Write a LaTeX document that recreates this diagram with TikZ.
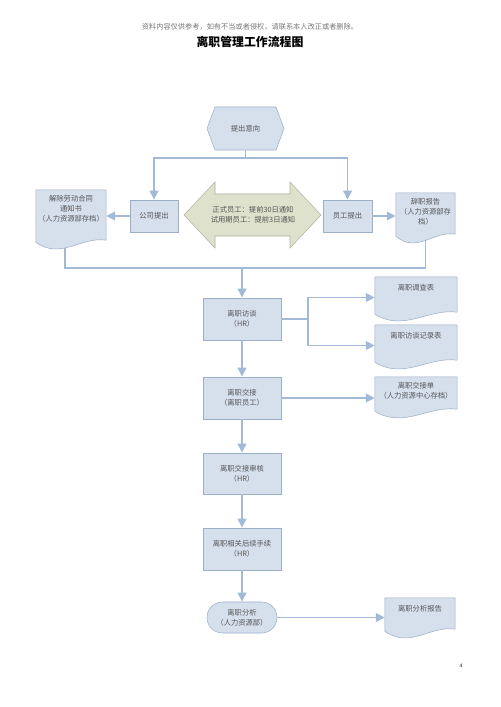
\documentclass[tikz,border=0pt]{standalone}
\usepackage{fontspec}
\setmainfont{Liberation Serif}
\newfontfamily\cjk{Noto Sans CJK SC}
\usetikzlibrary{arrows.meta,calc}
\definecolor{boxfill}{RGB}{214,223,236}
\definecolor{boxline}{RGB}{156,175,200}
\definecolor{conn}{RGB}{163,185,216}
\definecolor{dafill}{RGB}{222,225,204}
\definecolor{daline}{RGB}{176,180,156}
\definecolor{txt}{RGB}{85,85,85}
\definecolor{hdr}{RGB}{120,120,120}
\newcommand\docwave[1]{%
  \filldraw[docshape] (#1.north west) -- (#1.north east) -- ($(#1.south east)+(0,-6)$)
    .. controls ($(#1.south west)!0.65!(#1.south east)+(0,-10)$) and ($(#1.south west)!0.35!(#1.south east)+(0,14)$) .. ($(#1.south west)+(0,-4)$) -- cycle;}
\begin{document}
\begin{tikzpicture}[x=0.4mm,y=-0.4mm,
  font=\cjk\fontsize{8.3}{11.5}\selectfont,
  box/.style={draw=boxline, fill=boxfill, line width=0.6pt, text=txt, align=center, inner sep=0pt},
  docnode/.style={draw=none, inner sep=0pt},
  doctext/.style={text=txt, align=center, inner sep=0pt, anchor=north},
  docshape/.style={draw=boxline, fill=boxfill, line width=0.6pt},
  conline/.style={draw=conn, line width=2.2pt},
  conarrow/.style={draw=conn, line width=2.2pt, -{Triangle[length=3.6mm,width=3.4mm]}, color=conn},
  plain/.style={inner sep=0pt}]
\useasboundingbox[fill=white] (0,0) rectangle (500,707);

% header
\node[plain, text=hdr, font=\cjk\fontsize{8.2}{10}\selectfont] (hdrtext) at (250,27) {资料内容仅供参考，如有不当或者侵权，请联系本人改正或者删除。};
\node[plain, font=\cjk\bfseries\fontsize{13.5}{15}\selectfont] (title) at (250,42) {离职管理工作流程图};

% hexagon
\filldraw[docshape] (207,128.5) -- (215,107) -- (276,107) -- (284,128.5) -- (276,150) -- (215,150) -- cycle;
\node[plain, text=txt, minimum width=30.4mm, minimum height=17.2mm] (hx) at (245.5,128.5) {提出意向};

% double arrow
\filldraw[draw=daline, fill=dafill, line width=0.6pt] (184,215) -- (215,182) -- (215,194) -- (290,194) -- (290,182) -- (321,215) -- (290,248) -- (290,236) -- (215,236) -- (215,248) -- cycle;
\node[plain, text=txt, align=center] (da) at (253,215) {正式员工：提前30日通知\\试用期员工：提前3日通知};

% boxes
\node[box, minimum width=19.2mm, minimum height=12.8mm] (gs) at (154,216) {公司提出};
\node[box, minimum width=19.6mm, minimum height=12.8mm] (ys) at (347.5,216) {员工提出};
\node[box, minimum width=31.2mm, minimum height=16.8mm] (ft) at (242,319) {离职访谈\\（HR）};
\node[box, minimum width=31.2mm, minimum height=16.8mm] (jj) at (242,398) {离职交接\\（离职员工）};
\node[box, minimum width=31.2mm, minimum height=16.4mm] (sh) at (242,473.5) {离职交接审核\\（HR）};
\node[box, minimum width=31.2mm, minimum height=16.8mm] (hx2) at (242,549) {离职相关后续手续\\（HR）};
\node[box, rounded corners=6.2mm, minimum width=28mm, minimum height=12.4mm] (fx) at (242,617.5) {离职分析\\（人力资源部）};

% document nodes (outline drawn below)
\node[docnode, minimum width=28mm, minimum height=22.4mm] (d1) at (71,218) {};
\node[docnode, minimum width=23.6mm, minimum height=18.8mm] (d2) at (425.5,216.5) {};
\node[docnode, minimum width=32.8mm, minimum height=16.4mm] (d3) at (416,297.5) {};
\node[docnode, minimum width=32.8mm, minimum height=16.4mm] (d4) at (416,345.5) {};
\node[docnode, minimum width=32.8mm, minimum height=15.2mm] (d5) at (416,396) {};
\node[docnode, minimum width=28mm, minimum height=14.8mm] (d6) at (420,616.5) {};

% lines under documents
\coordinate (tj) at (245.5,158);
\coordinate (jl) at (65,268);
\coordinate (fork) at (308,319);
\draw[conline] (d1.center -| jl) -- (jl) -| (d2.center);
\draw[conline] (hx.south) -- (tj);

% documents
\docwave{d1}\docwave{d2}\docwave{d3}\docwave{d4}\docwave{d5}\docwave{d6}
\node[doctext] (d1t) at ($(d1.north)+(0,5)$) {解除劳动合同\\通知书\\（人力资源部存档）};
\node[doctext] (d2t) at ($(d2.north)+(0,5)$) {辞职报告\\（人力资源部存\\档）};
\node[doctext] (d3t) at ($(d3.north)+(0,7)$) {离职调查表};
\node[doctext] (d4t) at ($(d4.north)+(0,7)$) {离职访谈记录表};
\node[doctext] (d5t) at ($(d5.north)+(0,5)$) {离职交接单\\（人力资源中心存档）};
\node[doctext] (d6t) at ($(d6.north)+(0,7)$) {离职分析报告};

% arrows
\draw[conarrow] (tj) -| (gs.north);
\draw[conarrow] (tj) -| (ys.north);
\draw[conarrow] (gs.west) -- (gs.west -| d1.east);
\draw[conarrow] (ys.east) -- (ys.east -| d2.west);
\draw[conarrow] (ft.north |- jl) -- (ft.north);
\draw[conline] (ft.east) -- (fork);
\draw[conarrow] (fork) |- (d3.west);
\draw[conarrow] (fork) |- (d4.west);
\draw[conarrow] (ft.south) -- (jj.north);
\draw[conarrow] (jj.east) -- (jj.east -| d5.west);
\draw[conarrow] (jj.south) -- (sh.north);
\draw[conarrow] (sh.south) -- (hx2.north);
\draw[conarrow] (hx2.south) -- (fx.north);
\draw[conarrow] (fx.east) -- (fx.east -| d6.west);

% page number
\node[plain, font=\fontsize{6}{7}\selectfont] (pg) at (461,666) {4};
\end{tikzpicture}
\end{document}
